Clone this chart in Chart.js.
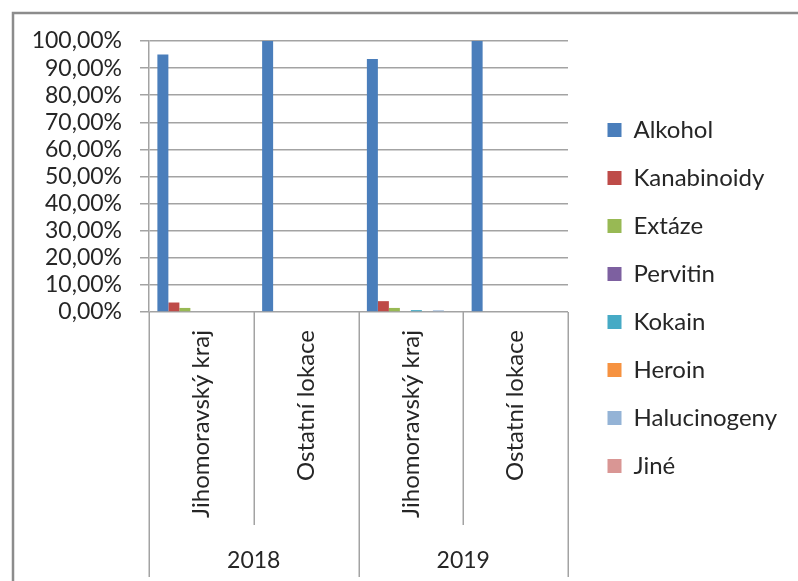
<!DOCTYPE html>
<html>
<head>
<meta charset="utf-8">
<script src="https://cdn.jsdelivr.net/npm/chart.js@4/dist/chart.umd.min.js"></script>
<style>
  html, body { margin: 0; padding: 0; background: #ffffff; }
  #wrap { position: relative; width: 798px; height: 581px; }
</style>
</head>
<body>
<div id="wrap"><canvas id="c" width="798" height="581"></canvas></div>
<script>
// ---- data ----
const locations = ['Jihomoravský kraj', 'Ostatní lokace', 'Jihomoravský kraj', 'Ostatní lokace'];
const years = ['2018', '2019'];
const seriesNames = ['Alkohol', 'Kanabinoidy', 'Extáze', 'Pervitin', 'Kokain', 'Heroin', 'Halucinogeny', 'Jiné'];
const alkohol      = [95.0, 100, 93.4, 100];
const kanabinoidy  = [3.5, 0, 4.0, 0];
const extaze       = [1.5, 0, 1.5, 0];
const pervitin     = [0, 0, 0, 0];
const kokain       = [0, 0, 0.7, 0];
const heroin       = [0, 0, 0, 0];
const halucinogeny = [0, 0, 0.6, 0];
const jine         = [0, 0, 0, 0];
const yTicks = [0, 10, 20, 30, 40, 50, 60, 70, 80, 90, 100];

const seriesValues = [alkohol, kanabinoidy, extaze, pervitin, kokain, heroin, halucinogeny, jine];
const seriesColors = ['#4A7EBB', '#BE4B48', '#98B954', '#7D60A0', '#46AAC5', '#F69240', '#94B3D6', '#D99694'];

const FONT = 'Lato, "Open Sans", sans-serif';
const GRID = '#a3a3a3';

const frame = {
  id: 'frame',
  beforeDraw(chart) {
    const ctx = chart.ctx;
    ctx.save();
    ctx.strokeStyle = '#8c8c8c';
    ctx.lineWidth = 2.5;
    ctx.strokeRect(13, 13, 900, 700);
    ctx.restore();
  },
  afterDraw(chart) {
    const xs = chart.scales.x;
    const ctx = chart.ctx;
    const top = chart.chartArea.bottom;
    ctx.save();
    ctx.strokeStyle = GRID;
    ctx.lineWidth = 1.5;
    for (let i = 0; i <= locations.length; i++) {
      const px = Math.round(xs.getPixelForValue(i - 0.5)) + 0.25;
      const outer = (i % 2 === 0);
      const bottom = outer ? chart.height - 4 : 525;
      ctx.beginPath();
      ctx.moveTo(px, top);
      ctx.lineTo(px, bottom);
      ctx.stroke();
    }
    ctx.restore();
  }
};

new Chart(document.getElementById('c'), {
  type: 'bar',
  data: {
    labels: locations,
    datasets: seriesNames.map((name, i) => ({
      label: name,
      data: seriesValues[i],
      backgroundColor: seriesColors[i],
      borderWidth: 0,
      xAxisID: 'x',
      yAxisID: 'y'
    }))
  },
  options: {
    responsive: false,
    animation: false,
    devicePixelRatio: 1,
    layout: { padding: { left: 0, top: 15, bottom: 0, right: 20 } },
    datasets: { bar: { categoryPercentage: 0.84, barPercentage: 1.0 } },
    plugins: {
      tooltip: { enabled: false },
      title: { display: false },
      legend: {
        position: 'right',
        align: 'center',
        labels: {
          boxWidth: 14,
          boxHeight: 14,
          padding: 24,
          color: '#262626',
          font: { family: FONT, size: 24 }
        }
      }
    },
    scales: {
      x: {
        type: 'category',
        position: 'bottom',
        weight: 0,
        offset: true,
        grid: { display: false, drawTicks: false },
        border: { display: false },
        ticks: {
          autoSkip: false,
          minRotation: 90,
          maxRotation: 90,
          padding: 18,
          color: '#262626',
          font: { family: FONT, size: 24 }
        },
        afterFit(scale) { scale.height = 215; }
      },
      x2: {
        type: 'category',
        position: 'bottom',
        weight: 1,
        labels: years,
        min: 0,
        max: 1,
        offset: true,
        grid: { display: false, drawTicks: false },
        border: { display: false },
        ticks: {
          autoSkip: false,
          maxRotation: 0,
          padding: 20,
          color: '#262626',
          font: { family: FONT, size: 23 }
        },
        afterFit(scale) { scale.height = 54; }
      },
      y: {
        type: 'linear',
        position: 'left',
        min: 0,
        max: 100,
        afterBuildTicks(scale) { scale.ticks = yTicks.map(v => ({ value: v })); },
        grid: { color: GRID, lineWidth: 1.5, drawTicks: true, tickLength: 9, tickColor: GRID },
        border: { display: true, color: GRID, width: 1.5 },
        ticks: {
          autoSkip: false,
          padding: 18,
          color: '#262626',
          font: { family: FONT, size: 23 },
          callback: (v) => v.toFixed(2).replace('.', ',') + '%'
        },
        afterFit(scale) { scale.width = 149; }
      },
      padTop: {
        type: 'linear',
        position: 'top',
        display: false,
        afterFit(scale) { scale.height = 26; }
      },
      pad: {
        type: 'linear',
        position: 'right',
        display: false,
        afterFit(scale) { scale.width = 15.5; }
      }
    }
  },
  plugins: [frame]
});
</script>
</body>
</html>
